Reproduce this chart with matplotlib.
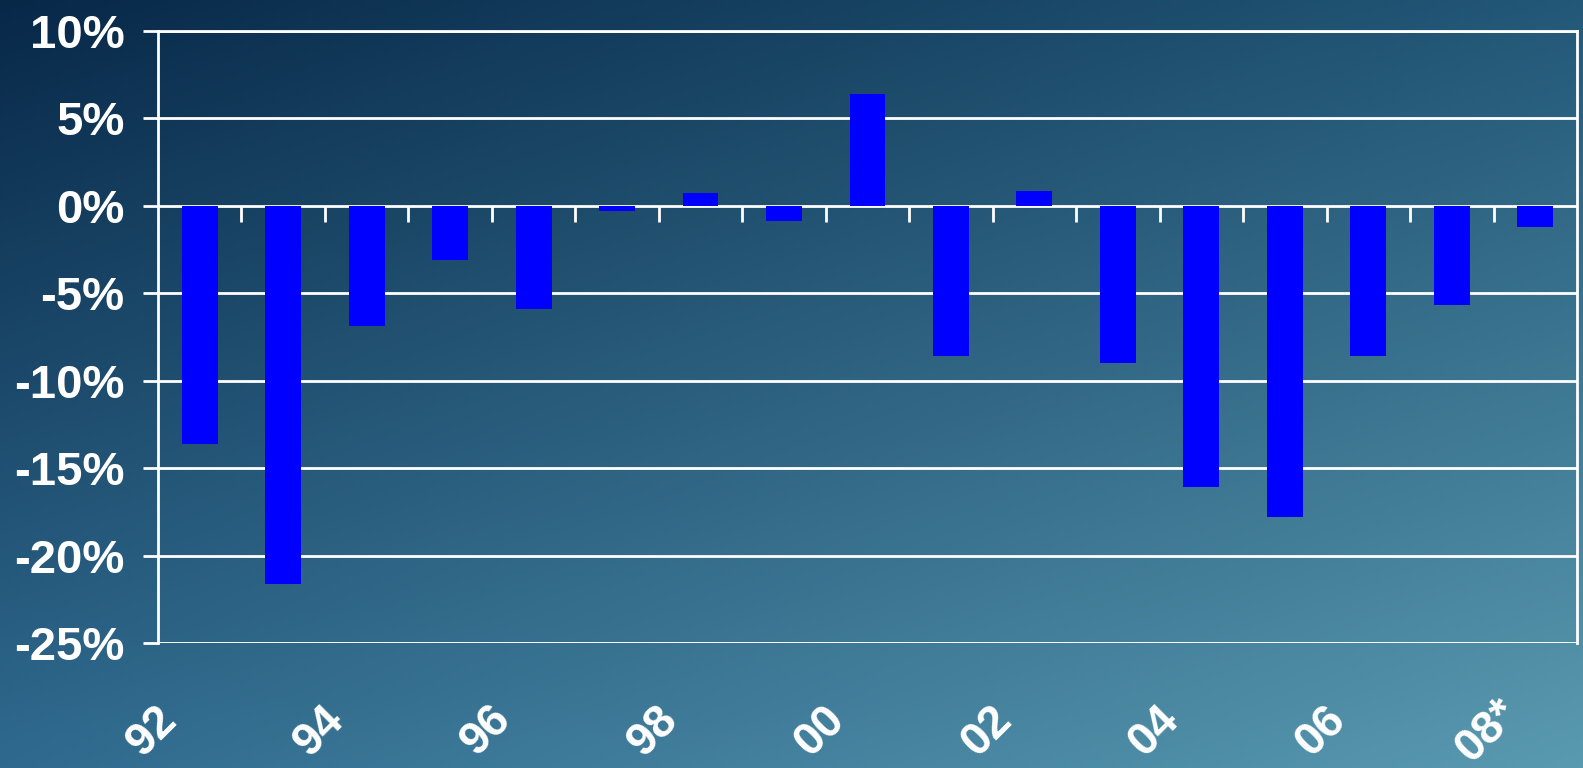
import numpy as np
import matplotlib.pyplot as plt
from matplotlib.transforms import ScaledTranslation

# Variación anual (%) por año
anios = ["92", "93", "94", "95", "96", "97", "98", "99", "00",
         "01", "02", "03", "04", "05", "06", "07", "08*"]
variacion = [-13.6, -21.6, -6.9, -3.1, -5.9, -0.3, 0.75, -0.85, 6.4,
             -8.6, 0.85, -9.0, -16.1, -17.8, -8.6, -5.7, -1.2]
ticks_y = [10, 5, 0, -5, -10, -15, -20, -25]

plt.rcParams["font.family"] = ["Liberation Sans", "DejaVu Sans"]
plt.rcParams["font.weight"] = "bold"

fig = plt.figure(figsize=(15.83, 7.68), dpi=100)

# Fondo degradado en diagonal (oscuro arriba a la izquierda)
fondo = fig.add_axes([0, 0, 1, 1], zorder=-10)
sup_izq = np.array([8, 40, 72]) / 255
sup_der = np.array([35, 88, 120]) / 255
inf_izq = np.array([47, 106, 142]) / 255
inf_der = np.array([90, 154, 176]) / 255
u = np.linspace(0, 1, 400)[None, :, None]
v = np.linspace(0, 1, 200)[:, None, None]
grad = (sup_izq * (1 - u) * (1 - v) + sup_der * u * (1 - v)
        + inf_izq * (1 - u) * v + inf_der * u * v)
fondo.imshow(grad, aspect="auto", extent=[0, 1, 0, 1], origin="upper")
fondo.axis("off")

ax = fig.add_axes([0.0998, 0.1628, 0.8964, 0.7969])
ax.patch.set_alpha(0)

x = np.arange(len(anios))
ax.bar(x, variacion, width=0.43, color="#0000FF", zorder=3)

ax.set_xlim(-0.5, len(anios) - 0.5)
ax.set_ylim(-25, 10)
ax.set_yticks(ticks_y)
ax.set_yticklabels([f"{t}%" for t in ticks_y])
ax.yaxis.grid(True, color="white", linewidth=2, zorder=1)
ax.tick_params(axis="y", colors="white", labelsize=34, length=11, width=2, pad=13)

for lado in ["left", "right", "top"]:
    ax.spines[lado].set_color("white")
    ax.spines[lado].set_linewidth(2)
ax.spines["bottom"].set_visible(False)

# Marcas entre categorías sobre la línea del cero
ax.set_xticks([])
ax.vlines(x[:-1] + 0.5, 0, -0.9, color="white", linewidth=2, zorder=2)
ax.axhline(-25, color="white", linewidth=2, zorder=2)

# Etiquetas de año cada dos barras, giradas 45°
desplaz = ScaledTranslation(-48 / 100, -88 / 100, fig.dpi_scale_trans)
trans = ax.get_xaxis_transform() + desplaz
for i in range(0, len(anios), 2):
    ax.text(x[i], 0, anios[i], transform=trans, rotation=45,
            ha="center", va="center", rotation_mode="anchor",
            color="white", fontsize=33, fontweight="bold")

fig.savefig("out.png", dpi=100)
